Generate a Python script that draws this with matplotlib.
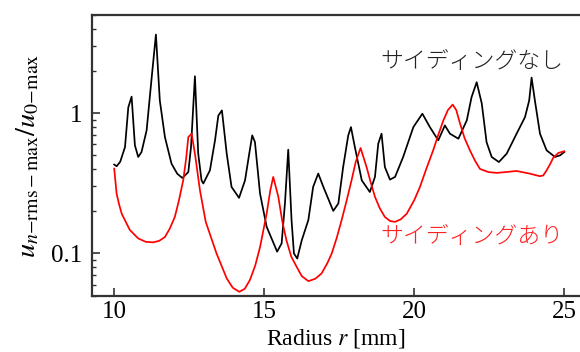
import numpy as np
import matplotlib
matplotlib.use('Agg')
import matplotlib.pyplot as plt
from matplotlib.ticker import FixedLocator, LogLocator, NullFormatter

plt.rcParams['font.family'] = ['Liberation Serif', 'DejaVu Serif']
plt.rcParams['mathtext.fontset'] = 'stix'

# サイディングなし (black)
r_nashi = [10.0, 10.08, 10.2, 10.36, 10.47, 10.58, 10.69, 10.80, 10.91, 11.08,
           11.25, 11.39, 11.52, 11.69, 11.91, 12.1, 12.27, 12.47, 12.56, 12.69,
           12.80, 12.91, 12.97, 13.19, 13.36, 13.47, 13.59, 13.75, 13.91, 14.16,
           14.36, 14.50, 14.60, 14.69, 14.86, 15.08, 15.43, 15.58, 15.69, 15.80,
           15.91, 15.99, 16.10, 16.25, 16.47, 16.63, 16.80, 16.97, 17.30, 17.47,
           17.63, 17.80, 17.89, 18.02, 18.25, 18.52, 18.69, 18.80, 18.91, 19.02,
           19.19, 19.36, 19.63, 19.97, 20.27, 20.52, 20.80, 21.02, 21.19, 21.47,
           21.75, 21.91, 22.08, 22.25, 22.41, 22.58, 22.82, 23.08, 23.41, 23.69,
           23.83, 23.91, 24.02, 24.19, 24.41, 24.69, 24.86, 25.0]
u_nashi = [0.43, 0.418, 0.45, 0.573, 1.10, 1.31, 0.589, 0.487, 0.528, 0.753,
           1.80, 3.63, 1.23, 0.675, 0.436, 0.37, 0.345, 0.38, 0.573, 1.83,
           0.514, 0.332, 0.315, 0.391, 0.64, 0.96, 1.045, 0.514, 0.298, 0.249,
           0.332, 0.514, 0.694, 0.622, 0.267, 0.155, 0.103, 0.118, 0.227, 0.549,
           0.173, 0.10, 0.092, 0.124, 0.173, 0.298, 0.371, 0.298, 0.201, 0.227,
           0.413, 0.694, 0.795, 0.573, 0.332, 0.274, 0.351, 0.606, 0.713, 0.413,
           0.336, 0.351, 0.487, 0.795, 0.99, 0.795, 0.64, 0.817, 0.713, 0.657,
           0.887, 1.30, 1.66, 1.17, 0.62, 0.487, 0.448, 0.514, 0.713, 0.936,
           1.23, 1.79, 1.23, 0.713, 0.543, 0.487, 0.50, 0.528]

# サイディングあり (red)
r_ari = [10.0, 10.08, 10.16, 10.25, 10.52, 10.80, 11.05, 11.30, 11.50, 11.69,
         11.85, 12.02, 12.15, 12.30, 12.40, 12.47, 12.58, 12.69, 12.86, 13.05,
         13.41, 13.75, 13.95, 14.17, 14.35, 14.52, 14.70, 14.86, 15.08, 15.2,
         15.3, 15.47, 15.60, 15.74, 15.9, 16.08, 16.25, 16.47, 16.7, 16.91,
         17.1, 17.25, 17.42, 17.58, 17.75, 17.91, 18.05, 18.21, 18.41, 18.55,
         18.69, 18.85, 19.02, 19.2, 19.36, 19.55, 19.75, 20.0, 20.19, 20.4,
         20.63, 20.80, 20.97, 21.12, 21.28, 21.40, 21.52, 21.68, 21.86, 22.02,
         22.19, 22.47, 22.75, 23.05, 23.41, 23.86, 24.19, 24.3, 24.41, 24.52,
         24.63, 24.8, 25.0]
u_ari = [0.402, 0.267, 0.225, 0.192, 0.147, 0.128, 0.121, 0.12, 0.123, 0.131,
         0.150, 0.182, 0.235, 0.332, 0.48, 0.675, 0.713, 0.514, 0.28, 0.168,
         0.10, 0.0664, 0.057, 0.0533, 0.056, 0.0645, 0.082, 0.111, 0.192, 0.28,
         0.351, 0.253, 0.17, 0.124, 0.095, 0.0803, 0.069, 0.0635, 0.066, 0.072,
         0.085, 0.1, 0.13, 0.173, 0.24, 0.332, 0.45, 0.564, 0.413, 0.32,
         0.253, 0.21, 0.182, 0.17, 0.168, 0.175, 0.192, 0.24, 0.298, 0.40,
         0.543, 0.70, 0.887, 1.05, 1.15, 1.05, 0.85, 0.66, 0.54, 0.46,
         0.40, 0.38, 0.375, 0.38, 0.387, 0.37, 0.355, 0.36, 0.391, 0.43,
         0.48, 0.52, 0.535]

xticks = [10, 15, 20, 25]
yticks = [0.1, 1]
ytick_labels = ['0.1', '1']

fig = plt.figure(figsize=(5.8, 3.52), dpi=100)
ax = fig.add_axes([91.7 / 580, 56.3 / 352, 487.6 / 580, 280.7 / 352])

ax.plot(r_nashi, u_nashi, color='black', lw=1.25)
ax.plot(r_ari, u_ari, color='#ff0000', lw=1.25)

ax.set_yscale('log')
ax.set_xlim(9.25, 25.5)
ax.set_ylim(0.05, 5)

ax.yaxis.set_major_locator(FixedLocator(yticks))
ax.yaxis.set_minor_locator(LogLocator(base=10, subs=np.arange(2, 10)))
ax.yaxis.set_minor_formatter(NullFormatter())
ax.set_xticks(xticks)
ax.set_xticks([], minor=True)
ax.set_xticklabels([str(t) for t in xticks], fontsize=18)
ax.set_yticklabels(ytick_labels, fontsize=18)

ax.tick_params(which='both', direction='in', top=False, right=False,
               colors='#333333', labelcolor='black')
ax.tick_params(axis='x', which='major', length=6, width=1.2, pad=4)
ax.tick_params(axis='y', which='major', length=6, width=1.2, pad=7)
ax.tick_params(which='minor', length=3, width=1.0)
for s in ['left', 'bottom', 'top']:
    ax.spines[s].set_linewidth(1.6)
    ax.spines[s].set_color('#333333')
ax.spines['right'].set_visible(False)

ax.set_xlabel('Radius $r$ [mm]', fontsize=17, labelpad=3)
ax.set_ylabel(r'$u_{n\mathrm{-rms-max}}/u_{0\mathrm{-max}}$', fontsize=20.5, labelpad=7)

ax.text(18.86, 2.33, 'サイディングなし', family=['Noto Sans CJK JP'], fontsize=16.5,
        color='#222222', ha='left', va='center', fontweight='light')
ax.text(18.86, 0.133, 'サイディングあり', family=['Noto Sans CJK JP'], fontsize=16.5,
        color='#ff2020', ha='left', va='center', fontweight='light')

fig.savefig('out.png', dpi=100)
